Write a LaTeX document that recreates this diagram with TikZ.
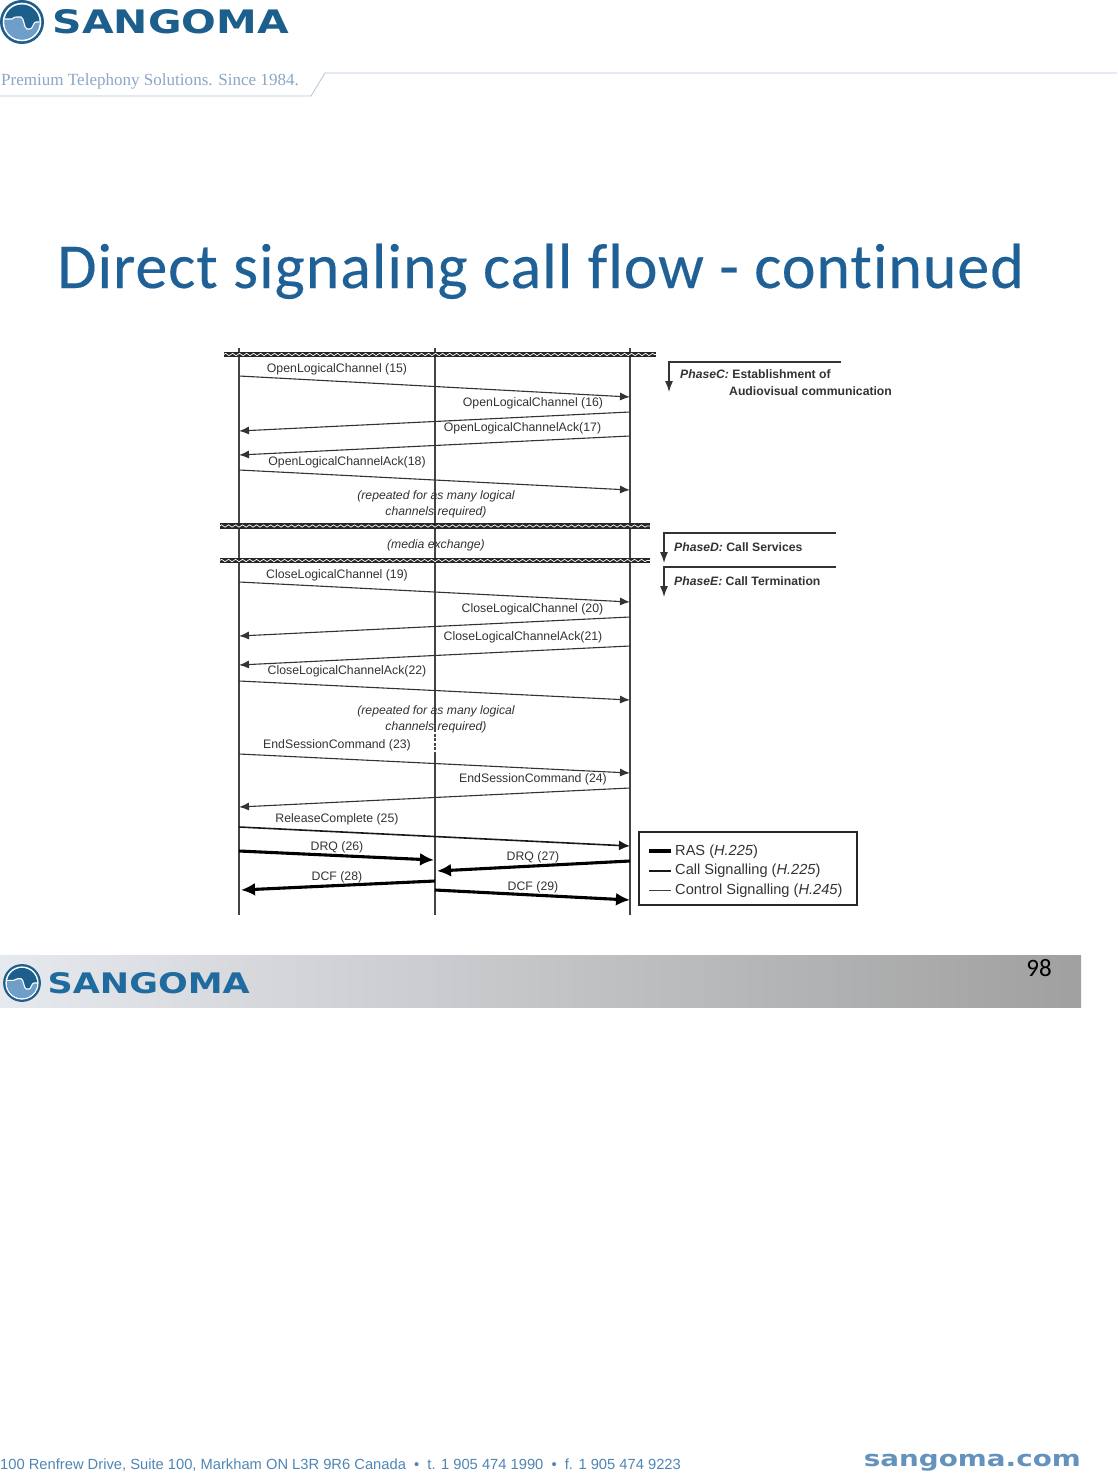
\documentclass[tikz,border=0pt]{standalone}
\usepackage{fontspec}
\setmainfont{Liberation Sans}
\newfontfamily\calibrifont{Carlito}
\newfontfamily\titlefont[LetterSpace=1.45,Ligatures=NoCommon,FakeBold=0.25]{Carlito}
\newfontfamily\timesfont{Liberation Serif}
\newfontfamily\wordfont{DejaVu Sans}
\usetikzlibrary{arrows.meta,decorations.pathmorphing}
\definecolor{sgblue}{HTML}{1C5E8C}
\definecolor{sglight}{HTML}{6F9FC9}
\definecolor{titleblue}{HTML}{1F6196}
\definecolor{tagblue}{HTML}{8CA6C6}
\definecolor{ruleblue}{HTML}{B0C6DE}
\definecolor{lbl}{HTML}{333333}
\definecolor{lifeln}{HTML}{444444}
\definecolor{footblue}{HTML}{4F86B5}
\definecolor{webblue}{HTML}{6392BD}
\definecolor{ftword}{HTML}{1F6A9E}
\definecolor{bandL}{HTML}{E6E9EE}
\definecolor{bandM}{HTML}{C2C2C4}
\definecolor{bandR}{HTML}{A0A0A0}
\tikzset{
 lifeline/.style={draw=lifeln,line width=1.2pt},
 msgarrow/.style={-{Latex[length=10pt,width=8pt]},line width=1.1pt,draw=black!80},
 callarrow/.style={-{Latex[length=11pt,width=10pt]},line width=1.6pt,draw=black!90},
 rasarrow/.style={-{Latex[length=14pt,width=13pt]},line width=3.1pt,draw=black},
 lab/.style={inner sep=0pt,font=\fontsize{12.3}{14}\selectfont,text=lbl},
 itlab/.style={lab,font=\fontsize{12.2}{14}\selectfont\itshape},
 barnode/.style={fill=black!85,inner sep=0pt,minimum height=5.5pt},
 barwave/.style={draw=white,line width=.7pt,decorate,decoration={zigzag,amplitude=1.2pt,segment length=7pt}},
 phaseline/.style={-{Latex[length=11pt,width=8pt]},line width=1.2pt,draw=black!80},
 phasetxt/.style={inner sep=0pt,anchor=west,font=\fontsize{12.2}{14}\selectfont\bfseries,text=black!80},
 legtxt/.style={inner sep=0pt,anchor=west,font=\fontsize{14.6}{16}\selectfont,text=lbl},
 sangomalogo/.pic={
  \fill[sgblue] (0,0) circle (22);
  \fill[white] (0,0) circle (19.3);
  \fill[sgblue] (0,0) circle (17.5);
  \begin{scope}
   \clip (0,0) circle (17.5);
   \fill[sglight] (-18,-3) -- (-10,-3) .. controls (-8,-5) and (-7,-5) .. (-5,-5) -- (-1,-5) .. controls (2,-5) and (2,7) .. (5,7) -- (8,7) .. controls (11,7) and (11,0) .. (14,0) -- (18,0) -- (18,18) -- (-18,18) -- cycle;
   \draw[white,line width=1.1pt] (-18,-3) -- (-10,-3) .. controls (-8,-5) and (-7,-5) .. (-5,-5) -- (-1,-5) .. controls (2,-5) and (2,7) .. (5,7) -- (8,7) .. controls (11,7) and (11,0) .. (14,0) -- (18,0);
  \end{scope}
 }
}
\begin{document}
\begin{tikzpicture}[x=1pt,y=-1pt]
\useasboundingbox (0,0) rectangle (1117,1474);
\fill[white] (0,0) rectangle (1117,1474);
% header
\pic at (22,22) {sangomalogo};
\node[inner sep=0pt,anchor=west,text=sgblue] (hdrword) at (52.5,22)
  {\resizebox{236pt}{24pt}{\wordfont\bfseries SANGOMA}};
\node[inner sep=0pt,anchor=base west,text=tagblue,font=\timesfont\fontsize{17.05}{18}\selectfont] (tag) at (1,85.5) {Premium Telephony Solutions. Since 1984.};
\coordinate (ruleA) at (0,96);
\coordinate (ruleB) at (311,96);
\coordinate (ruleC) at (325,73);
\coordinate (ruleD) at (1117,73);
\draw[ruleblue,line width=.8pt] (ruleA) -- (ruleB) -- (ruleC) -- (ruleD);
% title
\node[inner sep=0pt,anchor=base west,text=titleblue,font=\titlefont\fontsize{64}{66}\selectfont] (title) at (57,288) {Direct signaling call flow - continued};
% lifelines
\coordinate (Lt) at (239,348); \coordinate (Lb) at (239,915);
\coordinate (Mt) at (435,348); \coordinate (Mb) at (435,915);
\coordinate (Rt) at (630,348); \coordinate (Rb) at (630,915);
\draw[lifeline] (Lt) -- (Lb);
\draw[lifeline] (Mt) -- (Mb);
\draw[lifeline] (Rt) -- (Rb);
\coordinate (gapA) at (435,732); \coordinate (gapB) at (435,752);
\draw[white,line width=1.4pt,dash pattern=on 1.5pt off 3pt] (gapA) -- (gapB);
% wavy bars
\node[barnode,minimum width=432pt] (barA) at (440,354.5) {};
\node[barnode,minimum width=430pt] (barB) at (435,526) {};
\node[barnode,minimum width=430pt] (barC) at (435,560.5) {};
\draw[barwave] (barA.west) -- (barA.east);
\draw[barwave] (barB.west) -- (barB.east);
\draw[barwave] (barC.west) -- (barC.east);
% messages
\foreach \n/\xa/\ya/\xb/\yb in {
 m15/239/376/630/397, m16/630/412/239/431, m17/630/436/239/455, m18/239/470/630/490,
 m19/239/582/630/602, m20/630/617/239/636, m21/630/646/239/665, m22/239/681/630/700,
 m23/239/754/630/773, m24/630/788/239/807}{
 \coordinate (\n a) at (\xa,\ya); \coordinate (\n b) at (\xb,\yb);
 \draw[msgarrow] (\n a) -- (\n b);
}
\coordinate (m25a) at (239,827); \coordinate (m25b) at (630,846);
\draw[callarrow] (m25a) -- (m25b);
\foreach \n/\xa/\ya/\xb/\yb in {
 m26/239/851/434/860, m27/630/861/437/871, m28/435/881/241/890, m29/435/890/630/900}{
 \coordinate (\n a) at (\xa,\ya); \coordinate (\n b) at (\xb,\yb);
 \draw[rasarrow] (\n a) -- (\n b);
}
% labels
\node[lab] (l15) at (337,369) {OpenLogicalChannel (15)};
\node[lab] (l16) at (533,403) {OpenLogicalChannel (16)};
\node[lab] (l17) at (522.5,428) {OpenLogicalChannelAck(17)};
\node[lab] (l18) at (347,462.5) {OpenLogicalChannelAck(18)};
\node[itlab] (r1a) at (436,496.5) {(repeated for as many logical};
\node[itlab] (r1b) at (436,512) {channels required)};
\node[itlab] (media) at (436,545) {(media exchange)};
\node[lab] (l19) at (337,575) {CloseLogicalChannel (19)};
\node[lab] (l20) at (532.5,609) {CloseLogicalChannel (20)};
\node[lab] (l21) at (523,637) {CloseLogicalChannelAck(21)};
\node[lab] (l22) at (347,671.5) {CloseLogicalChannelAck(22)};
\node[itlab] (r2a) at (436,711.5) {(repeated for as many logical};
\node[itlab] (r2b) at (436,727) {channels required)};
\node[lab] (l23) at (337,745.5) {EndSessionCommand (23)};
\node[lab] (l24) at (533,779.5) {EndSessionCommand (24)};
\node[lab] (l25) at (337,819) {ReleaseComplete (25)};
\node[lab] (l26) at (337,847.5) {DRQ (26)};
\node[lab] (l27) at (533,857.5) {DRQ (27)};
\node[lab] (l28) at (337,877.5) {DCF (28)};
\node[lab] (l29) at (533,887.5) {DCF (29)};
% phases
\foreach \n/\xa/\xb/\ya/\yb in {pc/841/669/362/392, pd/836/664/533/563, pe/836/664/567/597}{
 \coordinate (\n s) at (\xa,\ya); \coordinate (\n c) at (\xb,\ya); \coordinate (\n e) at (\xb,\yb);
 \draw[phaseline] (\n s) -- (\n c) -- (\n e);
}
\node[phasetxt] (tc) at (680,374.5) {\textit{PhaseC:} Establishment of};
\node[phasetxt] (tc2) at (729,391.5) {Audiovisual communication};
\node[phasetxt] (td) at (674,547) {\textit{PhaseD:} Call Services};
\node[phasetxt] (te) at (674,581) {\textit{PhaseE:} Call Termination};
% legend
\node[draw=black!85,line width=1.1pt,minimum width=218pt,minimum height=73pt,inner sep=0pt] (legend) at (748,868.5) {};
\coordinate (k1a) at (649,851); \coordinate (k1b) at (671,851);
\coordinate (k2a) at (649,871); \coordinate (k2b) at (671,871);
\coordinate (k3a) at (649,890); \coordinate (k3b) at (671,890);
\draw[black,line width=3.8pt] (k1a) -- (k1b);
\draw[black!90,line width=2pt] (k2a) -- (k2b);
\draw[black!75,line width=1pt] (k3a) -- (k3b);
\node[legtxt] (t1) at (675,851.5) {RAS (\textit{H.225})};
\node[legtxt] (t2) at (675,870.5) {Call Signalling (\textit{H.225})};
\node[legtxt] (t3) at (675,890.5) {Control Signalling (\textit{H.245})};
% footer band
\shade[left color=bandL,middle color=bandM,right color=bandR] (0,955) rectangle (1081,1007);
\pic[scale=.86] at (22,983) {sangomalogo};
\node[inner sep=0pt,anchor=west,text=ftword] (ftword) at (47.5,983)
  {\resizebox{202pt}{21pt}{\wordfont\bfseries SANGOMA}};
\node[inner sep=0pt,text=black,font=\calibrifont\fontsize{25}{26}\selectfont] (pageno) at (1039,968) {98};
\node[inner sep=0pt,anchor=base west,text=footblue,font=\fontsize{14.72}{16}\selectfont] (addr) at (0,1469) {100 Renfrew Drive, Suite 100, Markham ON L3R 9R6 Canada\ \ •\ \ t. 1 905 474 1990\ \ •\ \ f. 1 905 474 9223};
\node[inner sep=0pt,anchor=east,text=webblue] (web) at (1081,1463) {\resizebox*{217pt}{17pt}{\wordfont\bfseries sangoma.com}};
\end{tikzpicture}
\end{document}
